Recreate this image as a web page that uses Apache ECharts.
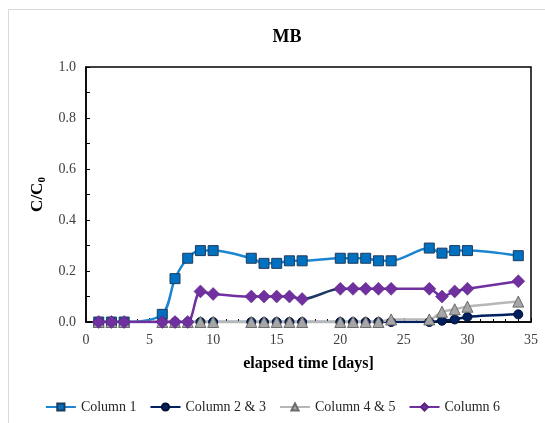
<!DOCTYPE html>
<html>
<head>
<meta charset="utf-8">
<script src="https://cdn.jsdelivr.net/npm/echarts@6/dist/echarts.min.js"></script>
<style>
  html, body { margin: 0; padding: 0; background: #fff; }
  #chart { width: 545px; height: 423px; }
</style>
</head>
<body>
<div id="chart"></div>
<script>
// Sampling days and normalised concentration C/C0 per column
var days   = [1, 2, 3, 6, 7, 8, 9, 10, 13, 14, 15, 16, 17, 20, 21, 22, 23, 24, 27, 28, 29, 30, 34];
var col1   = [0, 0, 0, 0.03, 0.17, 0.25, 0.28, 0.28, 0.25, 0.23, 0.23, 0.24, 0.24, 0.25, 0.25, 0.25, 0.24, 0.24, 0.29, 0.27, 0.28, 0.28, 0.26];
var col23  = [0, 0, 0, 0, 0, 0, 0, 0, 0, 0, 0, 0, 0, 0, 0, 0, 0, 0, 0, 0.005, 0.01, 0.02, 0.03];
var col45  = [0, 0, 0, 0, 0, 0, 0, 0, 0, 0, 0, 0, 0, 0, 0, 0, 0, 0.01, 0.01, 0.04, 0.05, 0.06, 0.08];
var col6   = [0, 0, 0, 0, 0, 0, 0.12, 0.11, 0.10, 0.10, 0.10, 0.10, 0.09, 0.13, 0.13, 0.13, 0.13, 0.13, 0.13, 0.10, 0.12, 0.13, 0.16];
var seriesNames = ['Column 1', 'Column 2 & 3', 'Column 4 & 5', 'Column 6'];

var serif = '"Liberation Serif", "Times New Roman", serif';

function pairs(xs, ys) {
  return xs.map(function (x, i) { return [x, ys[i]]; });
}

var chart = echarts.init(document.getElementById('chart'), null, { renderer: 'canvas' });

chart.setOption({
  animation: false,
  backgroundColor: '#fff',
  textStyle: { fontFamily: serif },
  graphic: [{
    type: 'rect',
    shape: { x: 8.5, y: 9.5, width: 560, height: 440 },
    style: { fill: 'none', stroke: '#d9d9d9', lineWidth: 1 },
    silent: true, z: -10
  }],
  title: {
    text: 'MB',
    left: 282, top: 23, textAlign: 'center',
    textStyle: { fontFamily: serif, fontWeight: 'bold', fontSize: 18, color: '#000' }
  },
  grid: { left: 86, right: 14, top: 67, bottom: 101, show: true, borderColor: '#000', borderWidth: 1.5, backgroundColor: 'transparent' },
  legend: {
    data: seriesNames,
    bottom: 4, left: 'center',
    itemWidth: 30, itemHeight: 9, itemGap: 13,
    textStyle: { fontFamily: serif, fontSize: 14, color: '#262626' }
  },
  xAxis: {
    type: 'value', min: 0, max: 35, interval: 5,
    name: 'elapsed time [days]', nameLocation: 'middle', nameGap: 34,
    nameTextStyle: { fontFamily: serif, fontWeight: 'bold', fontSize: 16, color: '#000' },
    axisLine: { lineStyle: { color: '#000', width: 1.5 } },
    axisTick: { inside: true, length: 4, lineStyle: { color: '#000' } },
    minorTick: { show: true, splitNumber: 5, length: 3, lineStyle: { color: '#000' } },
    splitLine: { show: false },
    axisLabel: { fontFamily: serif, fontSize: 14, color: '#404040', margin: 11 }
  },
  yAxis: {
    type: 'value', min: 0, max: 1, interval: 0.2,
    name: 'C/C{sub|0}', nameLocation: 'middle', nameGap: 34, nameRotate: 90,
    nameTextStyle: {
      fontFamily: serif, fontWeight: 'bold', fontSize: 17, color: '#000',
      rich: { sub: { fontFamily: serif, fontWeight: 'bold', fontSize: 11, color: '#000', verticalAlign: 'bottom', padding: [8, 0, 0, 0] } }
    },
    axisLine: { lineStyle: { color: '#000', width: 1.5 } },
    axisTick: { inside: true, length: 4, lineStyle: { color: '#000' } },
    minorTick: { show: true, splitNumber: 2, length: 4, lineStyle: { color: '#000' } },
    splitLine: { show: false },
    axisLabel: { fontFamily: serif, fontSize: 14, color: '#404040', margin: 10, formatter: function (v) { return v.toFixed(1); } }
  },
  visualMap: {
    show: false, type: 'piecewise', seriesIndex: 3, dimension: 0,
    pieces: [{ gt: 17, lt: 20, color: '#1f3864' }],
    outOfRange: { color: '#7030a0' }
  },
  series: [
    {
      name: seriesNames[0], type: 'line', smooth: 0.3,
      data: pairs(days, col1),
      symbol: 'rect', symbolSize: 10,
      lineStyle: { color: '#1b85d0', width: 2.5 },
      itemStyle: { color: '#0070c0', borderColor: '#1f3b5c', borderWidth: 1 }
    },
    {
      name: seriesNames[1], type: 'line', smooth: 0.3,
      data: pairs(days, col23),
      symbol: 'circle', symbolSize: 9,
      lineStyle: { color: '#002060', width: 2.5 },
      itemStyle: { color: '#002060', borderColor: '#001030', borderWidth: 1 }
    },
    {
      name: seriesNames[2], type: 'line', smooth: 0.3,
      data: pairs(days, col45),
      symbol: 'triangle', symbolSize: 11,
      lineStyle: { color: '#b7b7b7', width: 2.5 },
      itemStyle: { color: '#a6a6a6', borderColor: '#6b6b6b', borderWidth: 1 }
    },
    {
      name: seriesNames[3], type: 'line', smooth: 0.3,
      data: pairs(days, col6),
      symbol: 'diamond', symbolSize: 13,
      lineStyle: { width: 2.5 },
      itemStyle: { color: '#7030a0', borderColor: '#5a2580', borderWidth: 0.5 }
    }
  ]
});
</script>
</body>
</html>
